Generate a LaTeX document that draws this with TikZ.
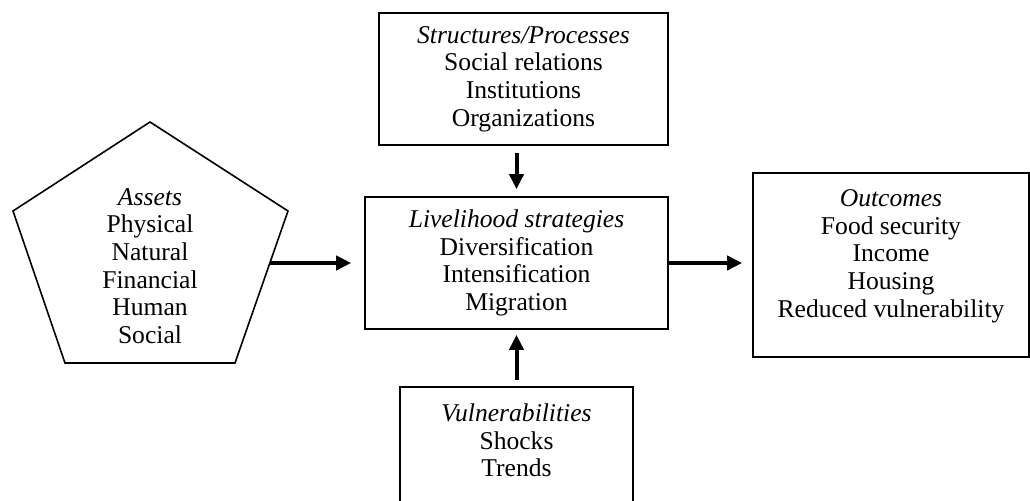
\documentclass[tikz,border=0pt]{standalone}
\usepackage{fontspec}
\setmainfont{Liberation Serif}
\usetikzlibrary{arrows.meta}

\begin{document}
\begin{tikzpicture}[x=0.5pt,y=-0.5pt,
  txt/.style={align=center,font=\fontsize{12.8}{13.8}\selectfont},
  box/.style={txt,draw,line width=0.8pt,inner sep=0pt},
  >={Triangle[length=7.5pt,width=7pt]}]
\useasboundingbox (0,0) rectangle (1030,501);
\clip (0,0) rectangle (1030,501);
\draw[line width=0.8pt] (150,122) -- (288,211) -- (235,363) -- (65,363) -- (13,211) -- cycle;
\node[txt] (1) at (150,266) {\textit{Assets}\\Physical\\Natural\\Financial\\Human\\Social};
\coordinate (1e) at (270,263);
\node[box, minimum width=144.5pt, minimum height=66pt] (2) at (523.5,79) {\textit{Structures/Processes}\\Social relations\\Institutions\\Organizations};
\node[box, minimum width=151.5pt, minimum height=66pt] (3) at (516.5,263) {\textit{Livelihood strategies}\\Diversification\\Intensification\\Migration};
\node[box, anchor=north, minimum width=116.5pt, inner ysep=8.5pt, text depth=40pt] (4) at (516.5,386) {\textit{Vulnerabilities}\\Shocks\\Trends};
\node[box, anchor=north, minimum width=138pt, inner ysep=8.5pt, text depth=11.5pt] (5) at (891,172) {\textit{Outcomes}\\Food security\\Income\\Housing\\Reduced vulnerability};
\path[draw,line width=2pt,->,shorten <=3.5pt,shorten >=3.5pt] (2.south -| 3.north) -- (3.north);
\path[draw,line width=2pt,->,shorten <=3pt,shorten >=2.5pt] (4.north) -- (3.south);
\path[draw,line width=2pt,->,shorten >=6.5pt] (1e) -- (3.west);
\path[draw,line width=2pt,->,shorten >=5pt] (3.east) -- (3.east -| 5.west);
\end{tikzpicture}
\end{document}
